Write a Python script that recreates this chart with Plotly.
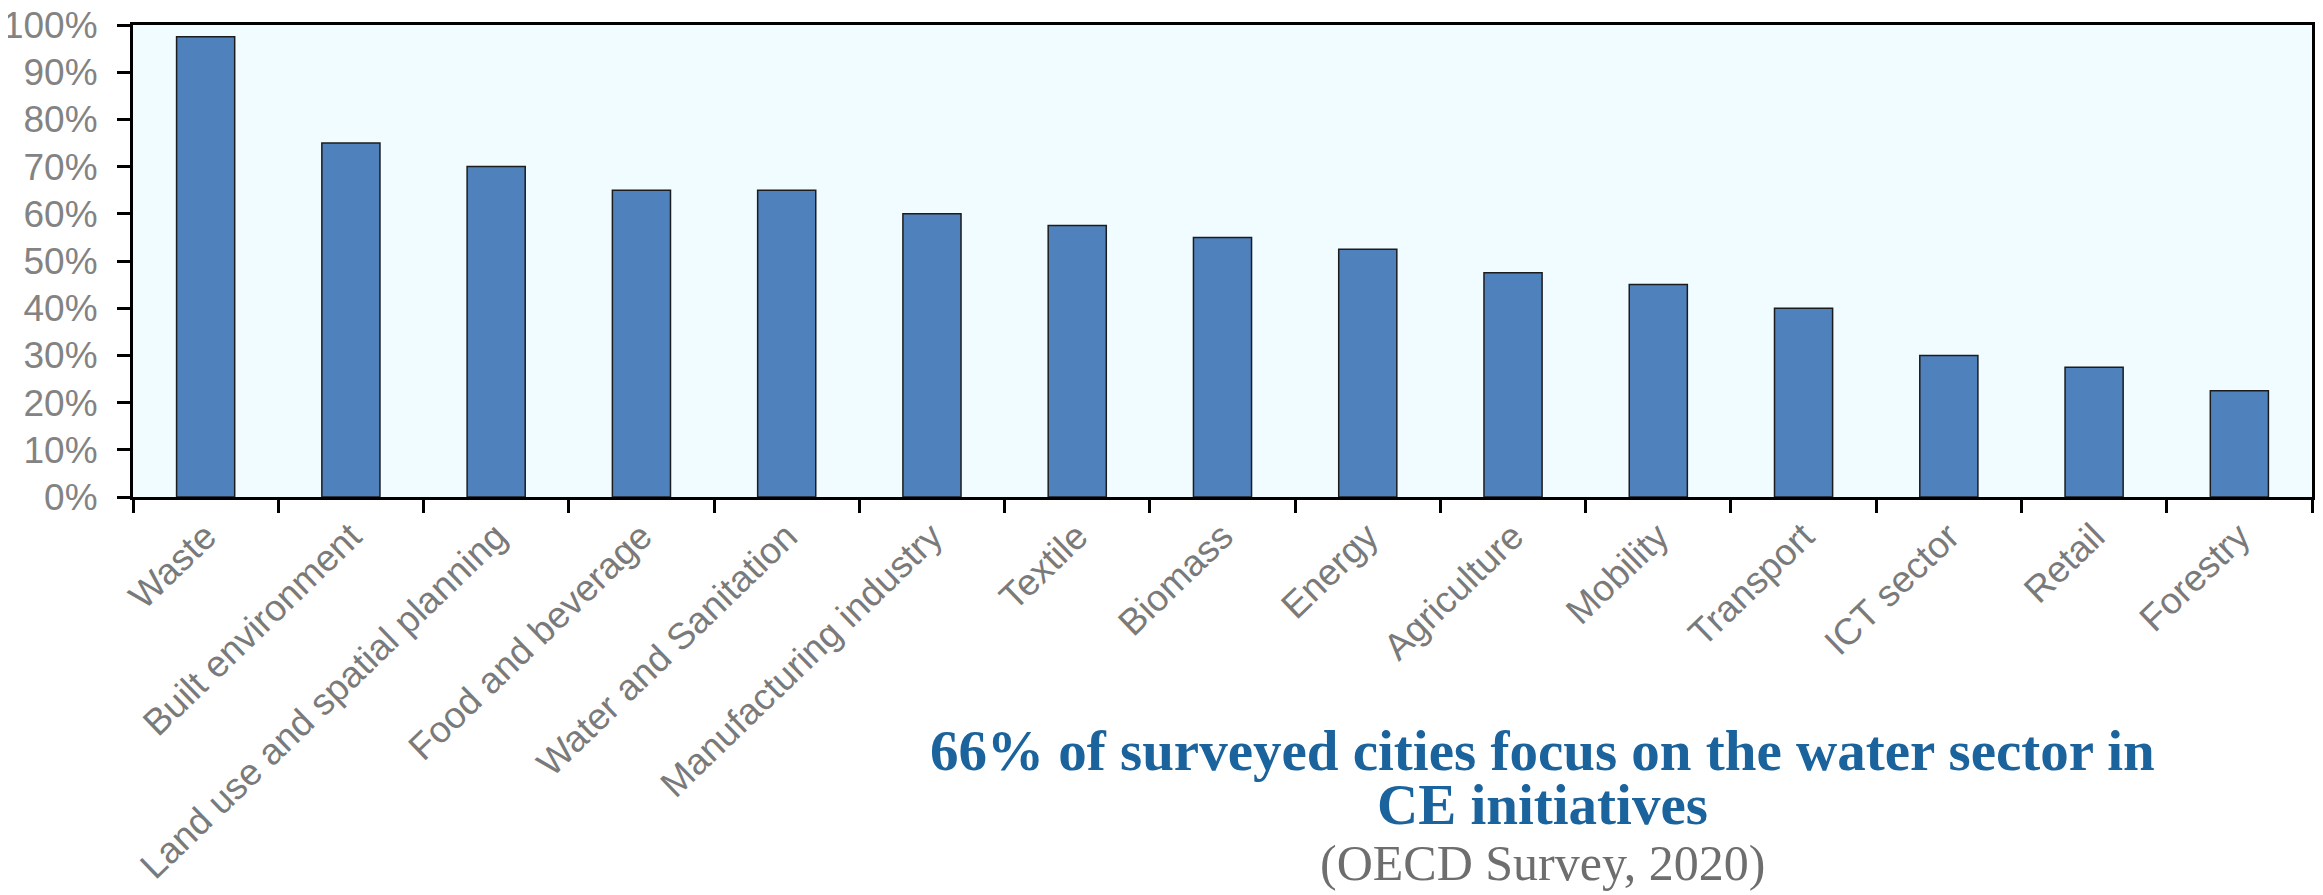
import plotly.graph_objects as go

categories = ["Waste", "Built environment", "Land use and spatial planning", "Food and beverage",
              "Water and Sanitation", "Manufacturing industry", "Textile", "Biomass", "Energy",
              "Agriculture", "Mobility", "Transport", "ICT sector", "Retail", "Forestry"]
values = [97.5, 75, 70, 65, 65, 60, 57.5, 55, 52.5, 47.5, 45, 40, 30, 27.5, 22.5]
y_ticks = [0, 10, 20, 30, 40, 50, 60, 70, 80, 90, 100]
y_tick_labels = [f"{v}%" for v in y_ticks]

headline_1 = "66% of surveyed cities focus on the water sector in"
headline_2 = "CE initiatives"
source = "(OECD Survey, 2020)"

SANS = "Liberation Sans, Arial, sans-serif"
SERIF = "Liberation Serif, Times New Roman, serif"

fig = go.Figure(go.Bar(
    x=categories, y=values, width=0.4,
    marker=dict(color="#4f81bd", line=dict(color="#1c1c1c", width=1.5)),
))

# page body has an 8px margin, so the figure is sized/offset to land on the reference pixels
fig.update_layout(
    width=2307, height=887,
    margin=dict(l=125, r=3, t=17, b=398),
    paper_bgcolor="white", plot_bgcolor="#f0fcff",
    showlegend=False, bargap=0.6,
)
fig.update_yaxes(
    range=[0, 100], tickvals=y_ticks, ticktext=y_tick_labels,
    showgrid=False, zeroline=False, automargin=False,
    showline=True, linecolor="black", linewidth=3, mirror=True,
    ticks="outside", ticklen=13, tickwidth=3, tickcolor="black",
    tickfont=dict(family=SANS, size=37, color="#838383"),
    ticklabelstandoff=12, ticklabeloverflow="allow",
)
fig.update_xaxes(
    showgrid=False, zeroline=False, automargin=False,
    showline=True, linecolor="black", linewidth=3, mirror=True,
    ticks="outside", ticklen=13, tickwidth=3, tickcolor="black",
    tickson="boundaries", tickangle=-44,
    tickfont=dict(family=SANS, size=37, color="#7a7a7a"),
    ticklabeloverflow="allow",
)

fig.add_annotation(xref="paper", yref="paper", x=0.647, y=-0.538, text=f"<b>{headline_1}</b>",
                   showarrow=False, xanchor="center", yanchor="middle",
                   font=dict(family=SERIF, size=57, color="#1a639c"))
fig.add_annotation(xref="paper", yref="paper", x=0.647, y=-0.652, text=f"<b>{headline_2}</b>",
                   showarrow=False, xanchor="center", yanchor="middle",
                   font=dict(family=SERIF, size=57, color="#1a639c"))
fig.add_annotation(xref="paper", yref="paper", x=0.647, y=-0.775, text=source,
                   showarrow=False, xanchor="center", yanchor="middle",
                   font=dict(family=SERIF, size=50, color="#6e6e6e"))

fig.write_html("out.html")
